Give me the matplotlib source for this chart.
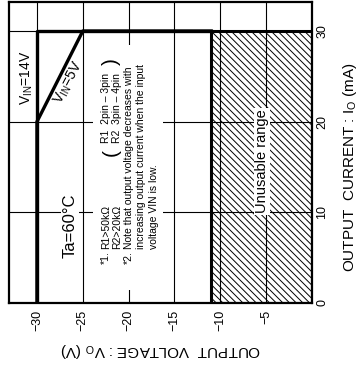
import matplotlib
matplotlib.use("Agg")
import matplotlib.pyplot as plt
from matplotlib.patches import Rectangle

plt.rcParams["font.family"] = ["Liberation Sans", "DejaVu Sans"]
plt.rcParams["hatch.linewidth"] = 0.7

# chart values (voltage in V, current in mA)
volt_ticks = [-30, -25, -20, -15, -10, -5]
volt_labels = ["\u221230", "\u221225", "\u221220", "\u221215", "\u221210", "\u22125"]
curr_ticks = [0, 10, 20, 30]
curr_labels = ["0", "10", "20", "30"]

vin14_v = [-30, -30, -11]
vin14_i = [0, 30, 30]
vin5_v = [-30, -30, -25, -11]
vin5_i = [0, 20, 30, 30]

unusable_v = [-11, 0]
unusable_top = 30

fig = plt.figure(figsize=(3.63, 3.66), dpi=100)
ax = fig.add_axes([9 / 363, 1 - 303 / 366, 303 / 363, 301 / 366])
ax.set_xlim(-33.05, 0)
ax.set_ylim(0, 33.2)

ax.set_xticks(volt_ticks)
ax.set_xticklabels(volt_labels, rotation=90, fontsize=9)
ax.yaxis.tick_right()
ax.set_yticks(curr_ticks)
ax.set_yticklabels(curr_labels, rotation=90, va="center", fontsize=9)
ax.tick_params(axis="x", length=0, pad=5)
ax.tick_params(axis="y", length=0, pad=3)
ax.grid(True, color="black", lw=0.8)
ax.set_axisbelow(False)
for s in ax.spines.values():
    s.set_linewidth(1.6)

# unusable range
ax.fill_between(unusable_v, 0, unusable_top, hatch="\\" * 5, facecolor="none",
                edgecolor="black", lw=2.2, zorder=1)

ax.plot(vin14_v, vin14_i, color="black", lw=2.4, zorder=3)
ax.plot(vin5_v, vin5_i, color="black", lw=2.4, zorder=3)

# white area behind the notes
ax.add_patch(Rectangle((-23.9, 1.4), 7.7, 27.1, facecolor="white",
                       edgecolor="none", zorder=2.8))

box = dict(facecolor="white", edgecolor="none", pad=1)
ax.text(-31.1, 24.8, "$\\mathregular{V_{IN}}$=14V", rotation=90, fontsize=10,
        ha="center", va="center", zorder=5)
ax.text(-26.55, 24.3, "$\\mathregular{V_{IN}}$=5V", rotation=62, fontsize=10,
        ha="center", va="center", rotation_mode="anchor", zorder=5)
ax.text(-26.4, 8.5, "Ta=60\u00b0C", rotation=90, fontsize=12,
        ha="center", va="center", bbox=box, zorder=5)
ax.text(-5.45, 15.6, "Unusable range", rotation=90, fontsize=10.5,
        ha="center", va="center", bbox=box, zorder=5)

note = dict(rotation=90, rotation_mode="anchor", ha="left", va="center",
            fontsize=7.5, zorder=5)
ax.text(-22.5, 4.3, "*1.", **note)
ax.text(-22.5, 6.0, "R1>50k\u03a9", **note)
ax.text(-21.25, 6.0, "R2>20k\u03a9", **note)
ax.text(-20.0, 4.3, "*2.", **note)
ax.text(-20.0, 6.0, "Note that output voltage decreases with", **note)
ax.text(-18.65, 6.0, "increasing output current when the input", **note)
ax.text(-17.25, 6.0, "voltage VIN is low.", **note)
ax.text(-22.5, 17.6, "R1  2pin \u2013 3pin", **note)
ax.text(-21.25, 17.6, "R2  3pin \u2013 4pin", **note)
ax.text(-21.85, 16.6, "(", rotation=90, ha="center", va="center", fontsize=15, zorder=5)
ax.text(-21.85, 26.6, ")", rotation=90, ha="center", va="center", fontsize=15, zorder=5)

fig.text(160.5 / 363, 1 - 350 / 366, "OUTPUT  VOLTAGE : $\\mathregular{V_O}$ (V)",
         rotation=180, ha="center", va="center", fontsize=11)
fig.text(350 / 363, 1 - 167.5 / 366, "OUTPUT  CURRENT : $\\mathregular{I_O}$ (mA)",
         rotation=90, ha="center", va="center", fontsize=11)

fig.savefig("out.png", dpi=100)
